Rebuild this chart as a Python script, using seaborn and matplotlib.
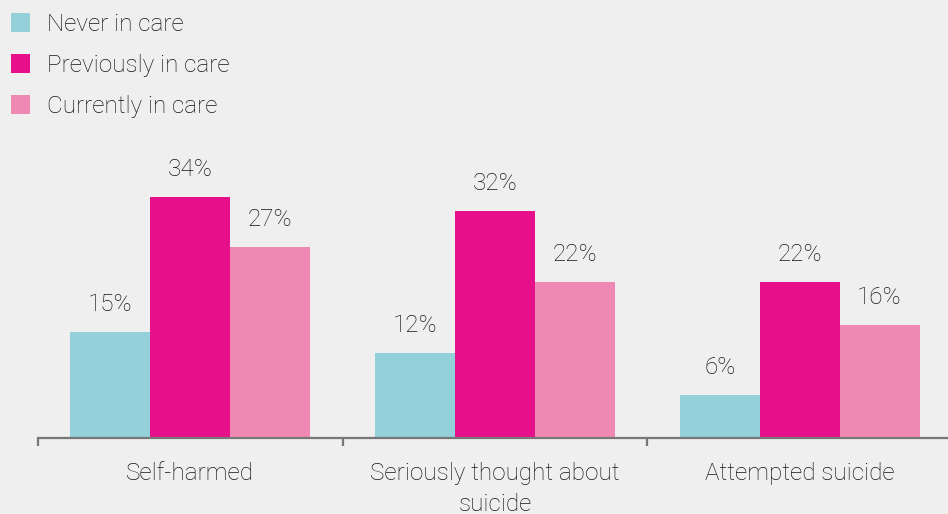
import pandas as pd
import seaborn as sns
import matplotlib.pyplot as plt
from matplotlib.patches import Patch

categories = ['Self-harmed', 'Seriously thought about\nsuicide', 'Attempted suicide']
groups = ['Never in care', 'Previously in care', 'Currently in care']
never_in_care = [15, 12, 6]
previously_in_care = [34, 32, 22]
currently_in_care = [27, 22, 16]

colors = ['#93d0d9', '#e6118a', '#f088b4']
bg = '#efefef'
text_col = '#151515'

rows = []
for g, vals in zip(groups, [never_in_care, previously_in_care, currently_in_care]):
    for c, v in zip(categories, vals):
        rows.append({'category': c, 'group': g, 'value': v})
df = pd.DataFrame(rows)

sns.set_theme(style='white')
plt.rcParams['font.family'] = ['Roboto', 'DejaVu Sans']

fs = 17.5
fig = plt.figure(figsize=(9.48, 5.14), dpi=100, facecolor=bg)
ax = fig.add_axes([38 / 948, 76 / 514, 914 / 948, 283.6 / 514])
ax.set_facecolor(bg)

sns.barplot(data=df, x='category', y='value', hue='group', order=categories,
            hue_order=groups, palette=colors, width=0.787, gap=0,
            errorbar=None, saturation=1, linewidth=0, ax=ax, legend=False)

for cont in ax.containers:
    ax.bar_label(cont, labels=[f'{v:.0f}%' for v in cont.datavalues],
                 padding=11.5, fontsize=fs, color=text_col, fontweight='light')

ax.set_xlim(-0.5, 2.5)
ax.set_ylim(0, 40)
ax.set_xlabel('')
ax.set_ylabel('')
ax.set_yticks([])
for s in ['top', 'right', 'left']:
    ax.spines[s].set_visible(False)
ax.spines['bottom'].set_color('#777777')
ax.spines['bottom'].set_linewidth(1.6)

ax.set_xticks([0, 1, 2])
ax.set_xticklabels(categories, fontsize=fs, color=text_col, linespacing=1.45,
                   fontweight='light')
ax.tick_params(axis='x', which='major', length=0, pad=17)
ax.set_xticks([-0.5, 0.5, 1.5], minor=True)
ax.tick_params(axis='x', which='minor', length=6, width=1.6, color='#777777',
               bottom=True)

handles = [Patch(facecolor=c, edgecolor='none') for c in colors]
fig.legend(handles, groups, loc='upper left', bbox_to_anchor=(-0.004, 1.003),
           frameon=False, labelcolor=text_col,
           handlelength=0.78, handleheight=0.78, handletextpad=0.7,
           labelspacing=0.74, borderaxespad=0.2, prop={'weight': 'light', 'size': fs})

fig.savefig('out.png', dpi=100, facecolor=bg)
